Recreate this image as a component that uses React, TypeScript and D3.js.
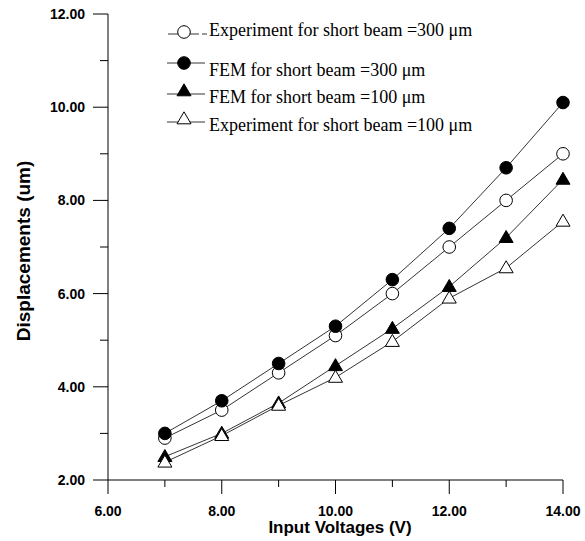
import React from "react";
import * as d3 from "d3";

const voltages = [7, 8, 9, 10, 11, 12, 13, 14];
const expShort300 = [2.9, 3.5, 4.3, 5.1, 6.0, 7.0, 8.0, 9.0];
const femShort300 = [3.0, 3.7, 4.5, 5.3, 6.3, 7.4, 8.7, 10.1];
const femShort100 = [2.5, 3.0, 3.65, 4.45, 5.25, 6.15, 7.2, 8.45];
const expShort100 = [2.38, 2.95, 3.6, 4.2, 4.97, 5.9, 6.55, 7.55];

const xTicks = [6, 8, 10, 12, 14];
const xMinor = [7, 9, 11, 13];
const yTicks = [2, 4, 6, 8, 10, 12];
const yMinor = [3, 5, 7, 9, 11];

type Marker = "openCircle" | "filledCircle" | "filledTri" | "openTri";
const seriesList: { name: string; values: number[]; marker: Marker }[] = [
  { name: "Experiment for short beam =300 μm", values: expShort300, marker: "openCircle" },
  { name: "FEM for short beam =300 μm", values: femShort300, marker: "filledCircle" },
  { name: "FEM for short beam =100 μm", values: femShort100, marker: "filledTri" },
  { name: "Experiment for short beam =100 μm", values: expShort100, marker: "openTri" },
];

function MarkerShape({ type, x, y, s = 1 }: { type: Marker; x: number; y: number; s?: number }) {
  if (type === "openCircle" || type === "filledCircle") {
    return (
      <circle
        cx={x}
        cy={y}
        r={6.3 * s}
        fill={type === "filledCircle" ? "#000" : "#fff"}
        stroke="#000"
        strokeWidth={1}
      />
    );
  }
  const h = 12 * s;
  const w = 14 * s;
  const pts = `${x},${y - h * 0.6} ${x - w / 2},${y + h * 0.4} ${x + w / 2},${y + h * 0.4}`;
  return <polygon points={pts} fill={type === "filledTri" ? "#000" : "#fff"} stroke="#000" strokeWidth={1} />;
}

export default function App() {
  const width = 585;
  const height = 541;
  const x = d3.scaleLinear().domain([6, 14]).range([108, 563]);
  const y = d3.scaleLinear().domain([2, 12]).range([480, 14]);
  const line = d3
    .line<number>()
    .x((_, i) => x(voltages[i]))
    .y((d) => y(d));
  const fmt = d3.format(".2f");
  const tickFont = "'Liberation Sans', Arial, sans-serif";
  const legendMarkerY = [32, 63, 91, 119];
  const legendLineY = [34, 63, 94, 122];
  const legendTextY = [36, 76, 103, 131];

  return (
    <svg
      width={width}
      height={height}
      style={{ position: "absolute", left: 0, top: 0, background: "#fff" }}
    >
      <rect width={width} height={height} fill="#fff" />
      {/* axes */}
      <line x1={x(6)} x2={x(14)} y1={y(2)} y2={y(2)} stroke="#000" strokeWidth={1} />
      <line x1={x(6)} x2={x(6)} y1={y(2)} y2={y(12)} stroke="#000" strokeWidth={1} />
      {yTicks.map((t) => (
        <g key={"yt" + t}>
          <line x1={x(6) - 15} x2={x(6)} y1={y(t)} y2={y(t)} stroke="#000" />
          <text
            x={85}
            y={y(t)}
            dy="0.35em"
            textAnchor="end"
            fontFamily={tickFont}
            fontWeight="bold"
            fontSize={14}
          >
            {fmt(t)}
          </text>
        </g>
      ))}
      {yMinor.map((t) => (
        <line key={"ym" + t} x1={x(6) - 8} x2={x(6)} y1={y(t)} y2={y(t)} stroke="#000" />
      ))}
      {xTicks.map((t) => (
        <g key={"xt" + t}>
          <line x1={x(t)} x2={x(t)} y1={y(2)} y2={y(2) + 14} stroke="#000" />
          <text
            x={x(t)}
            y={y(2) + 31}
            dy="0.35em"
            textAnchor="middle"
            fontFamily={tickFont}
            fontWeight="bold"
            fontSize={14}
          >
            {fmt(t)}
          </text>
        </g>
      ))}
      {xMinor.map((t) => (
        <line key={"xm" + t} x1={x(t)} x2={x(t)} y1={y(2)} y2={y(2) + 7} stroke="#000" />
      ))}
      <text
        x={340}
        y={533}
        textAnchor="middle"
        fontFamily={tickFont}
        fontWeight="bold"
        fontSize={17}
      >
        Input Voltages (V)
      </text>
      <text
        transform={`translate(30,251) rotate(-90)`}
        textAnchor="middle"
        fontFamily={tickFont}
        fontWeight="bold"
        fontSize={19}
      >
        Displacements (um)
      </text>
      {/* series */}
      {seriesList.map((s) => (
        <path key={s.name + "l"} d={line(s.values) || ""} fill="none" stroke="#000" strokeWidth={0.8} />
      ))}
      {seriesList.map((s) => (
        <g key={s.name + "m"}>
          {s.values.map((v, i) => (
            <MarkerShape key={i} type={s.marker} x={x(voltages[i])} y={y(v)} />
          ))}
        </g>
      ))}
      {/* legend */}
      {seriesList.map((s, i) => (
        <g key={s.name + "lg"}>
          {i === 0 ? (
            <g stroke="#000" strokeWidth={0.8}>
              <line x1={168} x2={179} y1={legendLineY[i]} y2={legendLineY[i]} />
              <line x1={189} x2={199} y1={legendLineY[i]} y2={legendLineY[i]} />
              <line x1={202} x2={207} y1={legendLineY[i]} y2={legendLineY[i]} />
            </g>
          ) : (
            <line x1={167} x2={205} y1={legendLineY[i]} y2={legendLineY[i]} stroke="#000" strokeWidth={0.8} />
          )}
          <MarkerShape type={s.marker} x={184} y={legendMarkerY[i]} />
          <text
            x={209}
            y={legendTextY[i]}
            fontFamily="'Liberation Serif', 'Times New Roman', serif"
            fontSize={18}
          >
            {s.name}
          </text>
        </g>
      ))}
    </svg>
  );
}
